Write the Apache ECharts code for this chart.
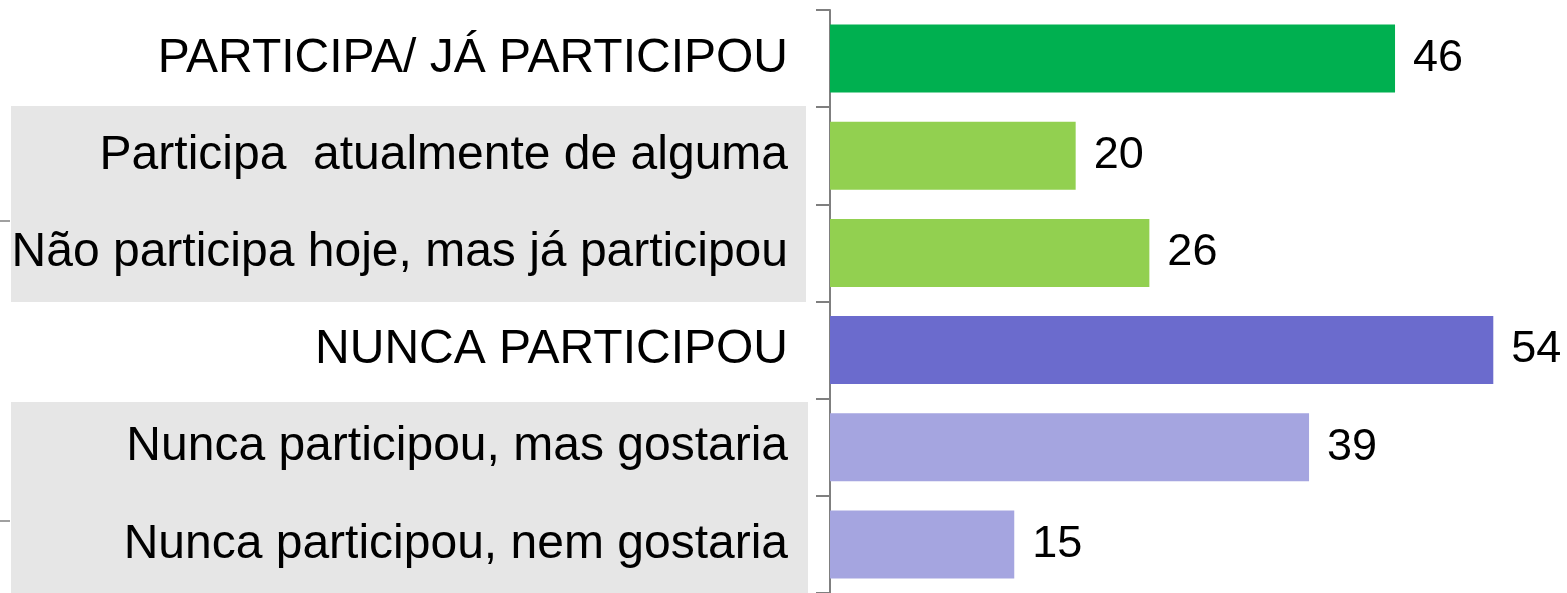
<!DOCTYPE html>
<html>
<head>
<meta charset="utf-8">
<script src="https://cdn.jsdelivr.net/npm/echarts@6/dist/echarts.min.js"></script>
<style>
html, body { margin: 0; padding: 0; background: #fff; }
#chartDiv { width: 1567px; height: 593px; }
</style>
</head>
<body>
<div id="chartDiv"></div>
<script>
var categories = [
    'PARTICIPA/ JÁ PARTICIPOU',
    'Participa  atualmente de alguma',
    'Não participa hoje, mas já participou',
    'NUNCA PARTICIPOU',
    'Nunca participou, mas gostaria',
    'Nunca participou, nem gostaria'
];
var values = [46, 20, 26, 54, 39, 15];
var barColors = ['#00B050', '#92D050', '#92D050', '#6B6BCD', '#A5A5E0', '#A5A5E0'];

var fontName = '"Liberation Sans", Arial, sans-serif';

var seriesData = values.map(function (v, i) {
    return { value: v, itemStyle: { color: barColors[i] } };
});

var option = {
    animation: false,
    grid: {
        left: 830,
        top: 10,
        width: 739,
        bottom: 0
    },
    xAxis: {
        type: 'value',
        min: 0,
        max: 60,
        show: false
    },
    yAxis: {
        type: 'category',
        inverse: true,
        data: categories,
        axisLine: { show: true, lineStyle: { color: '#7f7f7f', width: 2 } },
        axisTick: { show: true, length: 14, lineStyle: { color: '#7f7f7f', width: 2 } },
        axisLabel: {
            margin: 42,
            fontSize: 48,
            fontFamily: fontName,
            color: '#000',
            padding: [8, 0, 0, 0]
        }
    },
    // caixas cinzas atrás dos subgrupos
    graphic: [
        { type: 'rect', z: -10, shape: { x: 11, y: 106, width: 795, height: 196 }, style: { fill: '#E6E6E6' } },
        { type: 'rect', z: -10, shape: { x: 11, y: 402, width: 797, height: 191 }, style: { fill: '#E6E6E6' } },
        { type: 'line', shape: { x1: 0, y1: 221, x2: 10, y2: 221 }, style: { stroke: '#a0a0a0', lineWidth: 2 } },
        { type: 'line', shape: { x1: 0, y1: 521, x2: 10, y2: 521 }, style: { stroke: '#a0a0a0', lineWidth: 2 } }
    ],
    series: [
        {
            type: 'bar',
            barCategoryGap: '30%',
            data: seriesData,
            label: {
                show: true,
                position: 'right',
                distance: 18,
                fontSize: 45,
                fontFamily: fontName,
                color: '#000',
                padding: [8, 0, 0, 0]
            }
        }
    ]
};

var chart = echarts.init(document.getElementById('chartDiv'));
chart.setOption(option);
</script>
</body>
</html>
